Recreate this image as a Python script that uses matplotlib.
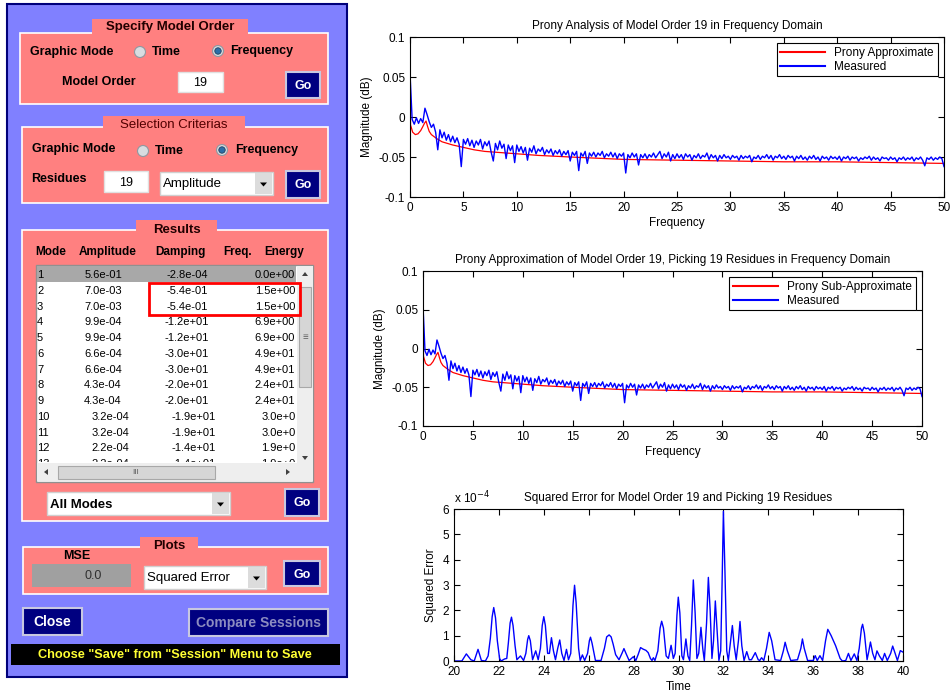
import matplotlib
matplotlib.use("Agg")
import matplotlib.pyplot as plt
from matplotlib.patches import Rectangle, Circle, Polygon
import numpy as np

plt.rcParams['font.family'] = ['Liberation Sans', 'DejaVu Sans']
plt.rcParams['axes.unicode_minus'] = False

# ---- data ----
# measured spectrum, one value every 0.2 Hz from 0 to 50
freq = np.linspace(0, 50, 251)
measured = [
    0.055, -0.003, -0.009, -0.001, -0.008, -0.002, -0.007, 0.011, 0.003, -0.006,
    -0.013, -0.009, -0.019, -0.041, -0.016, -0.026, -0.019, -0.029, -0.022, -0.031,
    -0.024, -0.032, -0.026, -0.034, -0.062, -0.028, -0.034, -0.027, -0.036, -0.029,
    -0.038, -0.030, -0.035, -0.028, -0.040, -0.031, -0.036, -0.030, -0.044, -0.055,
    -0.033, -0.041, -0.030, -0.039, -0.034, -0.052, -0.035, -0.042, -0.036, -0.057,
    -0.035, -0.043, -0.037, -0.045, -0.038, -0.054, -0.039, -0.044, -0.036, -0.046,
    -0.040, -0.043, -0.038, -0.047, -0.041, -0.045, -0.040, -0.048, -0.042, -0.046,
    -0.041, -0.049, -0.043, -0.047, -0.042, -0.055, -0.044, -0.048, -0.043, -0.067,
    -0.045, -0.049, -0.043, -0.058, -0.045, -0.049, -0.044, -0.050, -0.045, -0.048,
    -0.043, -0.051, -0.046, -0.049, -0.044, -0.050, -0.045, -0.052, -0.046, -0.049,
    -0.045, -0.070, -0.047, -0.051, -0.045, -0.050, -0.046, -0.060, -0.047, -0.051,
    -0.046, -0.052, -0.047, -0.050, -0.045, -0.051, -0.047, -0.043, -0.052, -0.046,
    -0.050, -0.044, -0.055, -0.047, -0.052, -0.046, -0.051, -0.047, -0.053, -0.046,
    -0.050, -0.047, -0.054, -0.048, -0.051, -0.046, -0.052, -0.048, -0.050, -0.045,
    -0.053, -0.047, -0.051, -0.048, -0.055, -0.048, -0.052, -0.047, -0.051, -0.049,
    -0.053, -0.048, -0.051, -0.049, -0.054, -0.048, -0.052, -0.049, -0.051, -0.048,
    -0.056, -0.050, -0.052, -0.048, -0.053, -0.049, -0.051, -0.047, -0.052, -0.048,
    -0.054, -0.049, -0.051, -0.047, -0.052, -0.049, -0.053, -0.048, -0.051, -0.049,
    -0.055, -0.049, -0.052, -0.048, -0.053, -0.050, -0.054, -0.049, -0.052, -0.048,
    -0.053, -0.050, -0.055, -0.049, -0.052, -0.050, -0.054, -0.049, -0.052, -0.050,
    -0.053, -0.049, -0.055, -0.050, -0.052, -0.049, -0.054, -0.050, -0.052, -0.050,
    -0.055, -0.051, -0.053, -0.050, -0.052, -0.049, -0.054, -0.050, -0.053, -0.051,
    -0.055, -0.050, -0.052, -0.051, -0.054, -0.050, -0.053, -0.051, -0.056, -0.051,
    -0.053, -0.050, -0.054, -0.051, -0.053, -0.050, -0.055, -0.051, -0.053, -0.050,
    -0.054, -0.061, -0.051, -0.053, -0.050, -0.054, -0.051, -0.053, -0.050, -0.052,
    -0.062]

# prony approximation (same curve in both frequency plots)
prony_freq = [0, 0.05, 0.25, 0.5, 0.75, 1.0, 1.2, 1.35, 1.5, 1.65, 1.8, 2.0, 2.5, 3, 4,
              5, 6, 7, 8, 10, 12, 15, 20, 25, 30, 35, 40, 45, 50]
prony_mag = [0.055, -0.010, -0.019, -0.022, -0.021, -0.017, -0.012, -0.008, -0.005, -0.012,
             -0.018, -0.022, -0.027, -0.031, -0.035, -0.038, -0.041, -0.043, -0.044, -0.046,
             -0.048, -0.050, -0.053, -0.054, -0.055, -0.056, -0.056, -0.057, -0.058]

# squared error, values in units of 1e-4
err_time = [20.0, 20.35, 20.55, 20.75, 20.9, 21.07, 21.22, 21.4, 21.52, 21.62,
            21.7, 21.77, 21.85, 21.93, 22.03, 22.1, 22.25, 22.35, 22.42, 22.5,
            22.56, 22.63, 22.72, 22.8, 22.96, 23.1, 23.2, 23.28, 23.33, 23.4,
            23.5, 23.64, 23.75, 23.85, 23.93, 24.0, 24.07, 24.17, 24.25, 24.34,
            24.43, 24.52, 24.62, 24.71, 24.8, 24.9, 25.01, 25.1, 25.2, 25.3,
            25.37, 25.44, 25.55, 25.62, 25.72, 25.82, 25.95, 26.03, 26.08, 26.15,
            26.3, 26.55, 26.7, 26.8, 26.91, 27.0, 27.09, 27.2, 27.35, 27.48,
            27.57, 27.66, 27.8, 27.99, 28.1, 28.2, 28.31, 28.42, 28.55, 28.65,
            28.75, 28.82, 28.88, 28.95, 29.08, 29.18, 29.25, 29.33, 29.45, 29.55,
            29.67, 29.77, 29.85, 29.93, 29.99, 30.06, 30.15, 30.22, 30.33, 30.42,
            30.5, 30.58, 30.66, 30.74, 30.82, 30.9, 31.0, 31.08, 31.15, 31.25,
            31.33, 31.41, 31.49, 31.56, 31.64, 31.72, 31.8, 31.88, 31.94, 32.0,
            32.07, 32.15, 32.22, 32.32, 32.4, 32.48, 32.57, 32.67, 32.74, 32.82,
            32.92, 33.04, 33.15, 33.25, 33.42, 33.55, 33.62, 33.7, 33.8, 33.92,
            34.04, 34.15, 34.3, 34.55, 34.67, 34.75, 34.85, 35.0, 35.3, 35.45,
            35.52, 35.6, 35.75, 36.0, 36.09, 36.18, 36.3, 36.42, 36.55, 36.65,
            36.8, 37.0, 37.2, 37.3, 37.45, 37.57, 37.68, 37.83, 37.95, 38.05,
            38.15, 38.2, 38.28, 38.4, 38.48, 38.55, 38.65, 38.75, 38.84, 38.95,
            39.08, 39.18, 39.3, 39.45, 39.54, 39.65, 39.75, 39.88, 40.0]
err_value = [0, 0, 0.28, 0.05, 0, 0.46, 0.02, 0, 0.2, 0.9,
             1.75, 2.11, 1.7, 0.8, 0.1, 0, 0.08, 0.1, 0.7, 1.5,
             1.73, 1.4, 0.6, 0.05, 0.2, 0.02, 0.3, 0.85, 1.0, 0.8,
             0.05, 0.4, 0.05, 0.5, 1.4, 1.75, 1.4, 0.3, 0.3, 0.92,
             0.4, 0.05, 0.5, 0.83, 0.3, 0.02, 0.46, 0.05, 0.3, 2.2,
             2.99, 2.3, 0.5, 0.02, 0.24, 0.02, 0.3, 0.8, 0.94, 0.7,
             0.02, 0.02, 0.5, 0.95, 1.03, 0.95, 0.66, 0.25, 0.05, 0.3,
             0.49, 0.3, 0.02, 0.17, 0.02, 0.25, 0.53, 0.47, 0.42, 0.33,
             0.1, 0.02, 0.13, 0.02, 0.4, 1.3, 1.57, 1.3, 0.2, 0.1,
             0.62, 0.1, 0.3, 1.8, 2.52, 1.9, 0.2, 0.05, 0.87, 0.2,
             0.02, 1.4, 3.2, 1.9, 0.1, 0.3, 1.33, 0.5, 0.02, 1.5,
             3.3, 2.0, 0.1, 0.8, 2.37, 1.2, 0.02, 0.4, 3.0, 5.91,
             3.5, 0.4, 0.02, 0.8, 1.4, 0.6, 0.05, 0.8, 1.56, 0.6,
             0.02, 0.37, 0.05, 0.05, 0.33, 0.05, 0.02, 0.13, 0.02, 0.5,
             1.13, 0.8, 0.05, 0.02, 0.4, 0.74, 0.4, 0.02, 0.05, 0.5,
             0.87, 0.5, 0.02, 0.02, 0.21, 0.02, 0.21, 0.02, 0.8, 1.25,
             1.0, 0.6, 0.1, 0.0, 0.02, 0.3, 0.02, 0.28, 0.02, 0.5,
             1.3, 1.45, 1.1, 0.05, 0.4, 0.75, 0.3, 0.05, 0.4, 0.2,
             0.02, 0.3, 0.02, 0.3, 0.59, 0.3, 0.02, 0.41, 0.35]

# results table
modes = [str(i) for i in range(1, 14)]
amplitudes = ["5.6e-01", "7.0e-03", "7.0e-03", "9.9e-04", "9.9e-04", "6.6e-04", "6.6e-04",
              "4.3e-04", "4.3e-04", "3.2e-04", "3.2e-04", "2.2e-04", "2.2e-04"]
dampings = ["-2.8e-04", "-5.4e-01", "-5.4e-01", "-1.2e+01", "-1.2e+01", "-3.0e+01", "-3.0e+01",
            "-2.0e+01", "-2.0e+01", "-1.9e+01", "-1.9e+01", "-1.4e+01", "-1.4e+01"]
freqs = ["0.0e+00", "1.5e+00", "1.5e+00", "6.9e+00", "6.9e+00", "4.9e+01", "4.9e+01",
         "2.4e+01", "2.4e+01", "3.0e+01", "3.0e+01", "1.9e+01", "1.9e+01"]

W, H = 951, 696
fig = plt.figure(figsize=(W / 100, H / 100), dpi=100)
fig.patch.set_facecolor('white')

# ---- the GUI panel, drawn in pixel coordinates ----
gui = fig.add_axes([0, 0, 1, 1])
gui.set_xlim(0, W)
gui.set_ylim(H, 0)
gui.axis('off')

PINK = '#FF8080'
NAVY = '#000080'


def rect(x0, y0, x1, y1, fc, ec='none', lw=1.0, z=1):
    r = Rectangle((x0, y0), x1 - x0, y1 - y0, fc=fc, ec=ec, lw=lw, zorder=z)
    gui.add_patch(r)
    return r


def label(x, y, s, size=9, bold=True, color='black', ha='left', clip=None):
    t = gui.text(x, y, s, fontsize=size, fontweight='bold' if bold else 'normal',
                 color=color, ha=ha, va='center', zorder=6)
    if clip is not None:
        t.set_clip_on(True)
        t.set_clip_path(clip)
    return t


def button(x0, y0, x1, y1, s, size=9, color='white'):
    rect(x0, y0, x1, y1, NAVY, '#C8C8E0', 1.5, z=3)
    label((x0 + x1) / 2, (y0 + y1) / 2 + 1, s, size, True, color, 'center')


def group(x0, y0, x1, y1, tx0, tx1, ty0, title, ty, bold=True):
    rect(x0, y0, x1, y1, PINK, 'white', 1.2, z=2)
    rect(tx0, ty0, tx1, y0 + 1.5, PINK, z=3)
    label((tx0 + tx1) / 2, ty, title, 9.5, bold, '#200000' if bold else '#500000', 'center')


def textbox(x0, y0, x1, y1, s):
    rect(x0, y0, x1, y1, 'white', '#E0E0E0', 1, z=3)
    label((x0 + x1) / 2, (y0 + y1) / 2 + 1, s, 9, False, 'black', 'center')


def combo(x0, y0, x1, y1, s, bold=False):
    rect(x0, y0, x1, y1, 'white', '#D0D0D0', 1, z=3)
    rect(x1 - 18, y0 + 1, x1 - 1, y1 - 1, '#DCDCDC', z=4)
    xm, ym = x1 - 9.5, (y0 + y1) / 2 + 1
    gui.add_patch(Polygon([[xm - 3.5, ym - 2], [xm + 3.5, ym - 2], [xm, ym + 2]],
                          closed=True, fc='black', ec='none', zorder=5))
    label(x0 + 3, (y0 + y1) / 2 + 1, s, 9.5, bold)


def radio(x, y, selected):
    gui.add_patch(Circle((x, y), 5.5, fc='#D8DCE0', ec='#9098A0', lw=0.8, zorder=4))
    if selected:
        gui.add_patch(Circle((x, y), 3.2, fc='#2C6EA8', ec='#204060', lw=0.6, zorder=5))


# background panel
rect(7, 4, 347, 677, '#8080FF', '#00007A', 1.5, z=0)

# Specify Model Order
group(20, 33, 328, 104, 92, 248, 19, 'Specify Model Order', 27)
label(30, 52, 'Graphic Mode')
radio(140, 52, False)
label(152, 52, 'Time')
radio(218, 51, True)
label(230, 51, 'Frequency')
label(62, 82, 'Model Order')
textbox(178, 72, 223, 92, '19')
button(286, 72, 320, 98, 'Go')

# Selection Criterias
group(22, 127, 328, 203, 103, 245, 116, 'Selection Criterias', 125, bold=False)
label(32, 149, 'Graphic Mode')
radio(143, 151, False)
label(155, 151, 'Time')
radio(222, 150, True)
label(235, 150, 'Frequency')
label(31, 179, 'Residues')
textbox(104, 171, 148, 192, '19')
combo(160, 172, 273, 195, 'Amplitude')
button(286, 171, 320, 198, 'Go')

# Results
group(22, 230, 328, 521, 136, 217, 220, 'Results', 230)
for x, h in zip([35, 79, 155, 223, 264], ['Mode', 'Amplitude', 'Damping', 'Freq.', 'Energy']):
    label(x, 252, h, 8.5)
lst = rect(36, 265, 313, 482, 'white', '#909090', 1, z=3)
clip = rect(37, 266, 296, 462, 'none', z=3)
rect(37, 266, 296, 282, '#A8A8A8', z=4)
for i in range(len(modes)):
    y = 275 + 15.77 * i
    shift = 0 if i < 9 else 7
    label(37, y, modes[i], 8, False, clip=clip)
    label(103 + shift, y, amplitudes[i], 8, False, ha='center', clip=clip)
    label(187 + shift, y, dampings[i], 8, False, ha='center', clip=clip)
    label(295 + shift, y, freqs[i], 8, False, ha='right', clip=clip)
# scrollbars
rect(297, 266, 312.5, 481, '#EEEEEE', z=4)
rect(299, 287, 311, 387, '#D6D6D6', '#A8A8A8', 0.8, z=5)
label(305, 337, '≡', 7, False, '#606060', 'center')
gui.add_patch(Polygon([[302, 276], [308, 276], [305, 272]], fc='#404040', zorder=5))
gui.add_patch(Polygon([[302, 456], [308, 456], [305, 460]], fc='#404040', zorder=5))
rect(37, 463, 297, 481, '#EEEEEE', z=7)
rect(58, 466, 215, 479, '#D6D6D6', '#A8A8A8', 0.8, z=7)
gui.text(136, 472, 'III', fontsize=6, color='#606060', ha='center', va='center', zorder=8)
gui.add_patch(Polygon([[48, 469], [48, 475], [44, 472]], fc='#404040', zorder=8))
gui.add_patch(Polygon([[286, 469], [286, 475], [290, 472]], fc='#404040', zorder=8))
rect(149, 283, 300, 315, 'none', '#FF0000', 2, z=7)
combo(47, 492, 230, 515, 'All Modes', bold=True)
button(285, 489, 319, 516, 'Go')

# Plots
group(23, 547, 328, 594, 140, 198, 537, 'Plots', 546)
label(77, 556, 'MSE', 9, True, 'black', 'center')
rect(32, 564, 131, 587, '#A0A0A0', z=3)
label(93, 576, '0.0', 9, False, '#303030', 'center')
combo(144, 566, 266, 589, 'Squared Error')
button(284, 561, 320, 586, 'Go')

button(23, 608, 82, 635, 'Close', 10)
button(189, 609, 328, 636, 'Compare Sessions', 10, '#8C8CC0')
rect(11, 644, 340, 665, 'black', z=3)
label(175, 655, 'Choose "Save" from "Session" Menu to Save', 9.2, True, '#FFFF33', 'center')


# ---- the three plots ----
FS = 8.5


def px_axes(left, top, right, bottom):
    return fig.add_axes([left / W, (H - bottom) / H, (right - left) / W, (bottom - top) / H])


def style(ax):
    ax.tick_params(direction='in', top=True, right=True, labelsize=FS, length=4, width=0.8)
    for s in ax.spines.values():
        s.set_linewidth(0.8)


def freq_plot(ax, title, approx_name):
    ax.plot(prony_freq, prony_mag, color='red', lw=0.9, label=approx_name)
    ax.plot(freq, measured, color='blue', lw=1.0, label='Measured')
    ax.set_xlim(0, 50)
    ax.set_ylim(-0.1, 0.1)
    ax.set_xticks(range(0, 51, 5))
    ax.set_yticks([-0.1, -0.05, 0, 0.05, 0.1])
    ax.set_yticklabels(['-0.1', '-0.05', '0', '0.05', '0.1'])
    ax.set_title(title, fontsize=FS)
    ax.set_xlabel('Frequency', fontsize=FS, labelpad=2)
    ax.set_ylabel('Magnitude (dB)', fontsize=FS)
    style(ax)
    leg = ax.legend(loc='upper right', fontsize=FS, fancybox=False, edgecolor='black',
                    framealpha=1, borderaxespad=0.55, handlelength=3.8, labelspacing=0.15,
                    borderpad=0.3)
    leg.get_frame().set_linewidth(0.8)
    for line in leg.get_lines():
        line.set_linewidth(1.5)


ax1 = px_axes(410, 37, 944, 197)
freq_plot(ax1, 'Prony Analysis of Model Order 19 in Frequency Domain', 'Prony Approximate')

ax2 = px_axes(423, 271, 922, 426)
freq_plot(ax2, 'Prony Approximation of Model Order 19, Picking 19 Residues in Frequency Domain',
          'Prony Sub-Approximate')

ax3 = px_axes(454, 509, 903, 661)
ax3.plot(err_time, err_value, color='blue', lw=1.0)
ax3.set_xlim(20, 40)
ax3.set_ylim(0, 6)
ax3.set_xticks(range(20, 41, 2))
ax3.set_yticks(range(0, 7))
ax3.set_title('Squared Error for Model Order 19 and Picking 19 Residues', fontsize=FS)
ax3.set_xlabel('Time', fontsize=FS, labelpad=2)
ax3.set_ylabel('Squared Error', fontsize=FS)
ax3.text(0, 1.02, r'x 10$^{-4}$', transform=ax3.transAxes, fontsize=FS, va='bottom')
style(ax3)

fig.savefig('out.png', dpi=100)
